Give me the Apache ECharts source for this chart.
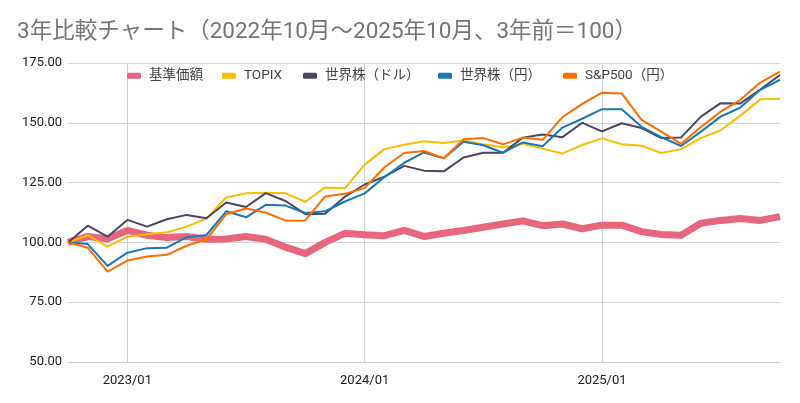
<!DOCTYPE html>
<html>
<head>
<meta charset="utf-8">
<script src="https://cdn.jsdelivr.net/npm/echarts@6/dist/echarts.min.js"></script>
<style>
html,body{margin:0;padding:0;background:#fff;}
#chart{width:800px;height:403px;}
</style>
</head>
<body>
<div id="chart"></div>
<script>
const categories = [
  "2022/10","2022/11","2022/12","2023/01","2023/02","2023/03","2023/04","2023/05","2023/06","2023/07","2023/08","2023/09",
  "2023/10","2023/11","2023/12","2024/01","2024/02","2024/03","2024/04","2024/05","2024/06","2024/07","2024/08","2024/09",
  "2024/10","2024/11","2024/12","2025/01","2025/02","2025/03","2025/04","2025/05","2025/06","2025/07","2025/08","2025/09","2025/10"
];
const labeledTicks = ["2023/01","2024/01","2025/01"];
const yTicks = [50, 75, 100, 125, 150, 175];

const kijunKagaku = [100, 102.5, 101.5, 105, 103, 102, 102.5, 101.3, 101.4, 102.5, 101.3, 98, 95.3, 100, 103.8, 103.2, 102.8, 105, 102.5, 103.8, 105, 106.3, 107.7, 109, 107, 107.7, 105.7, 107.2, 107.2, 104.5, 103.3, 103, 108, 109.2, 110, 109.2, 110.8];
const topix = [100, 103, 98.2, 102.4, 103.4, 104.2, 106.6, 110, 118.8, 120.5, 120.8, 120.5, 117, 123, 122.6, 132.5, 139, 140.8, 142.3, 141.6, 142.6, 141, 139.7, 141.2, 139.2, 137.2, 140.7, 143.5, 141, 140.4, 137.4, 139, 143.6, 146.9, 153, 159.8, 160.1];
const sekaiDollar = [100, 107, 102.4, 109.4, 106.6, 109.7, 111.5, 110.1, 116.7, 114.8, 120.6, 117.3, 111.8, 112, 119.1, 124.2, 127.5, 132, 130, 129.7, 135.5, 137.5, 137.5, 143.8, 145.1, 144, 150, 146.4, 149.8, 147.8, 143.6, 143.9, 152.6, 158.2, 158.1, 163.9, 170];
const sekaiYen = [100, 99.3, 90.2, 95.7, 97.6, 97.8, 102.2, 103.1, 113, 110.5, 115.7, 115.4, 112.3, 113, 117.1, 120.5, 127.3, 133.3, 137.6, 135.2, 142.1, 140.6, 137.5, 141.8, 140.2, 148, 151.7, 155.7, 155.7, 148.3, 144, 140.3, 146.3, 152.6, 156.4, 163.8, 168];
const sp500Yen = [100, 97.8, 87.8, 92.4, 94.1, 94.8, 98.6, 101.3, 111.8, 114.2, 112.5, 109.1, 109.2, 119.2, 120.3, 122.7, 131.4, 137.4, 138.2, 135.2, 143.1, 143.6, 141, 143.8, 142.9, 152.4, 157.9, 162.6, 162.3, 151.2, 146.3, 141.2, 148.2, 154.7, 159.6, 166.8, 171.4];

const seriesNames = ["基準価額", "TOPIX", "世界株（ドル）", "世界株（円）", "S&P500（円）"];
const seriesData = [kijunKagaku, topix, sekaiDollar, sekaiYen, sp500Yen];
const seriesColors = ["#e8667d", "#fbbc04", "#4c4660", "#1a78b5", "#ff6d01"];
const seriesWidths = [7, 2, 2, 2, 2];
const legendLefts = [127, 222, 303, 438, 563];

const FONT = "Roboto, 'Noto Sans CJK JP', sans-serif";
const chart = echarts.init(document.getElementById('chart'));
const isLabeled = (idx) => labeledTicks.indexOf(categories[idx]) >= 0;

chart.setOption({
  animation: false,
  backgroundColor: '#ffffff',
  title: {
    text: '3年比較チャート（2022年10月～2025年10月、3年前＝100）',
    left: 12, top: 16,
    textStyle: { fontFamily: FONT, fontSize: 22.5, fontWeight: 'normal', color: '#757575' }
  },
  legend: seriesNames.map((name, i) => ({
    left: legendLefts[i], top: 69,
    padding: 0,
    itemWidth: 14, itemHeight: 6,
    icon: 'roundRect',
    data: [name],
    textStyle: { fontFamily: FONT, fontSize: 13.5, color: '#444', padding: [0, 0, 0, 3] }
  })),
  grid: { left: 68, right: 20, top: 63, bottom: 41 },
  xAxis: {
    type: 'category',
    data: categories,
    boundaryGap: false,
    axisLine: { show: true, lineStyle: { color: '#cccccc' } },
    axisTick: { show: false },
    axisLabel: {
      interval: (idx) => isLabeled(idx),
      fontFamily: FONT, fontSize: 13, color: '#222', margin: 12
    },
    splitLine: { show: true, interval: (idx) => isLabeled(idx), lineStyle: { color: '#d0d0d0', width: 1 } }
  },
  yAxis: {
    type: 'value',
    min: yTicks[0], max: yTicks[yTicks.length - 1], interval: 25,
    axisLine: { show: false },
    axisTick: { show: false },
    axisLabel: { formatter: (v) => v.toFixed(2), fontFamily: FONT, fontSize: 13, color: '#222', margin: 6 },
    splitLine: { lineStyle: { color: '#d6d6d6', width: 1 } }
  },
  series: seriesNames.map((name, i) => ({
    name: name,
    type: 'line',
    data: seriesData[i],
    showSymbol: false,
    symbol: 'none',
    color: seriesColors[i],
    lineStyle: { width: seriesWidths[i], color: seriesColors[i], join: 'round' }
  }))
});
</script>
</body>
</html>
